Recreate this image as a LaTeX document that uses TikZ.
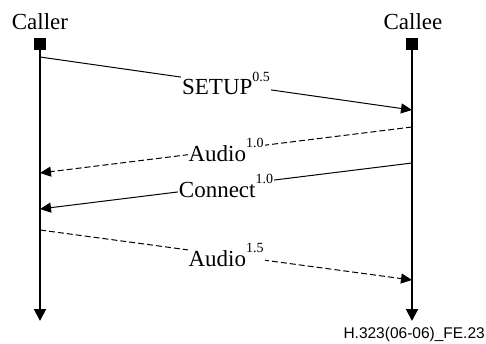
\documentclass[tikz,border=0pt]{standalone}
\usepackage{fontspec}
\setmainfont{Liberation Serif}
\setsansfont{Liberation Sans}
\usetikzlibrary{arrows.meta,positioning}

\newcommand\msgidx[1]{\raisebox{1.3ex}{\fontsize{14}{14}\selectfont #1}}

\begin{document}
\begin{tikzpicture}[
        x=1pt, y=-1pt,
        every node/.style={font=\fontsize{23}{26}\selectfont},
        lifeline/.style={line width=2pt,-{Triangle[length=12pt,width=12pt]}},
        stub/.style={fill=black,minimum size=11.5pt,inner sep=0pt},
        msg/.style={line width=1pt,-{Triangle[length=11pt,width=10pt]}},
        lbl/.style={midway,fill=white,inner sep=1pt}
      ]

        \useasboundingbox (0,0) rectangle (486,343);

        % Entities ------------------------------------------------
        \node (caller) at (40,22)  {Caller};
        \node (callee) at (413,22) {Callee};

        \node[stub] (callerbox) at (40,44)  {};
        \node[stub] (calleebox) at (412,44) {};

        \coordinate (callerend) at (40,321);
        \coordinate (calleeend) at (412,321);

        \draw[lifeline] (callerbox.south) -- (callerend);
        \draw[lifeline] (calleebox.south) -- (calleeend);

        % Message end points on the lifelines
        \coordinate (setupA)  at (40,57);
        \coordinate (setupB)  at (412,110);
        \coordinate (audioA)  at (412,127);
        \coordinate (audioB)  at (40,173);
        \coordinate (connA)   at (412,163);
        \coordinate (connB)   at (40,209);
        \coordinate (audioC)  at (40,230);
        \coordinate (audioD)  at (412,280);

        % Messages ------------------------------------------------
        \draw[msg] (setupA) -- node[lbl] (setup) {SETUP\msgidx{0.5}} (setupB);
        \draw[msg,dash pattern=on 6pt off 3pt]
          (audioA) -- node[lbl] (audio1) {Audio\msgidx{1.0}} (audioB);
        \draw[msg] (connA) -- node[lbl] (connect) {Connect\msgidx{1.0}} (connB);
        \draw[msg,dash pattern=on 6pt off 3pt]
          (audioC) -- node[lbl] (audio2) {Audio\msgidx{1.5}} (audioD);

        % Figure tag
        \node[font=\sffamily\fontsize{15.5}{18}\selectfont,anchor=base east,inner sep=0pt]
          (tag) at (485,338) {H.323(06-06)\_FE.23};

      \end{tikzpicture}
\end{document}
